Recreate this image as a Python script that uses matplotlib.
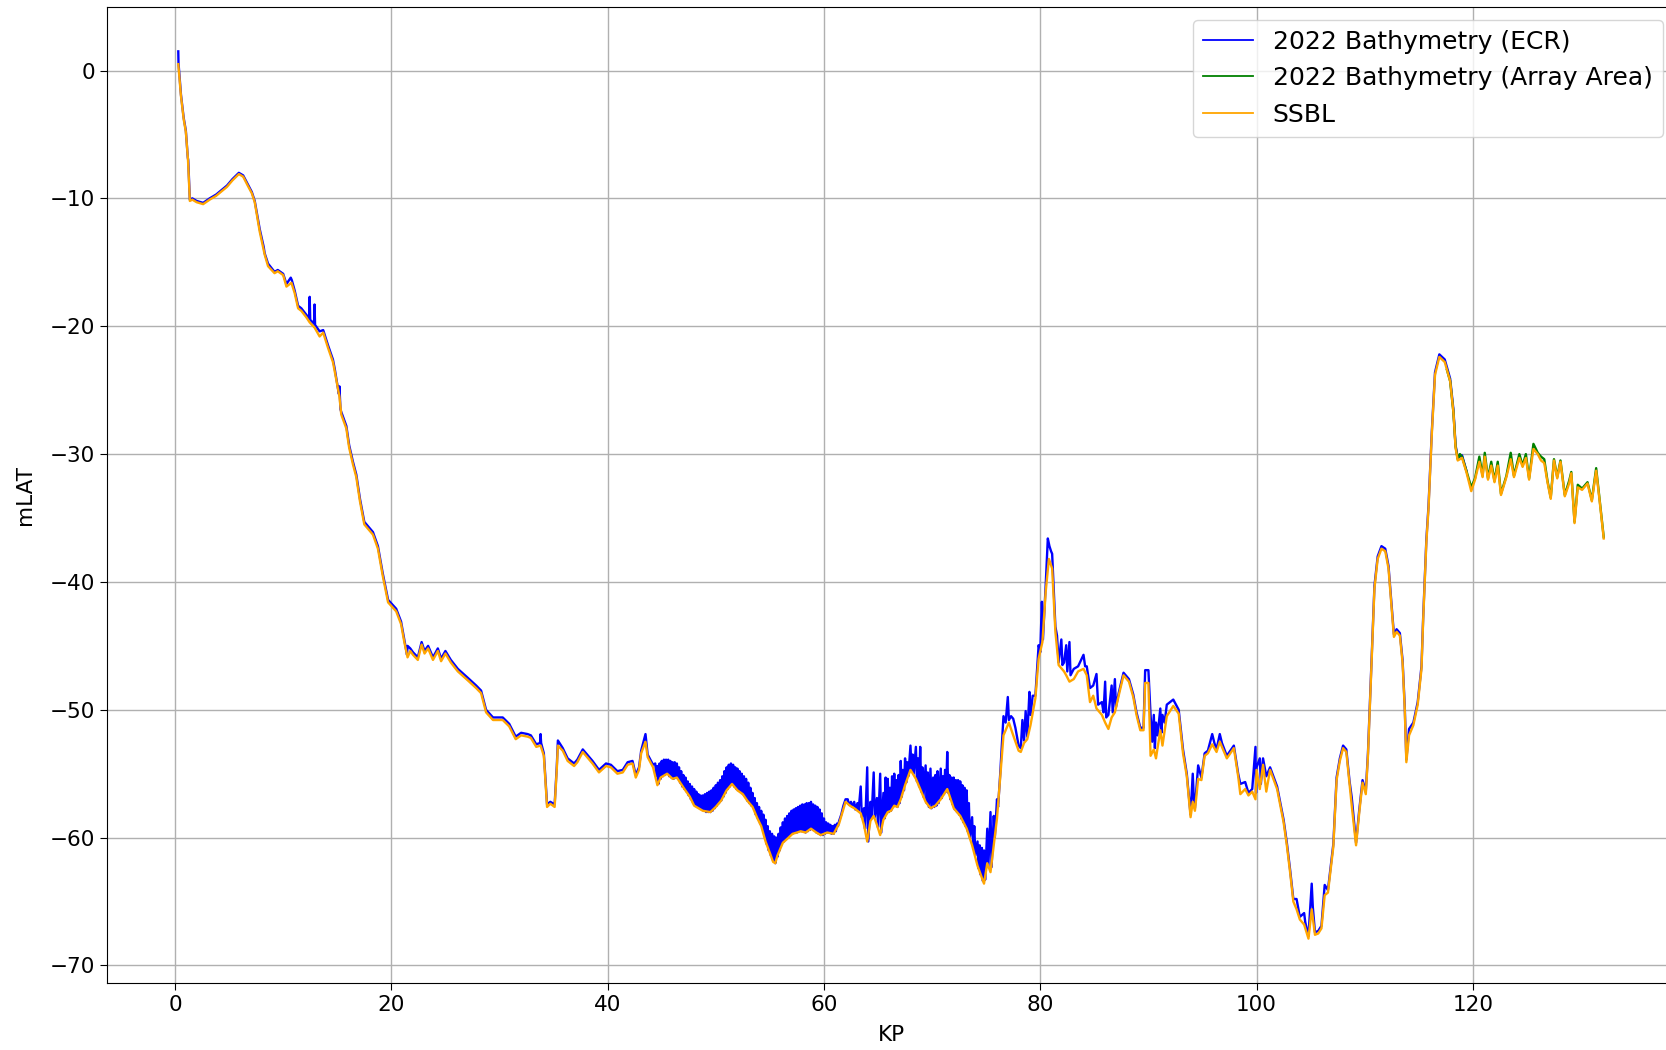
import numpy as np
import matplotlib
matplotlib.use("Agg")
import matplotlib.pyplot as plt

# SSBL profile (KP, mLAT)
ssbl = [
    (0.30, 0.5), (0.55, -2.0), (0.80, -3.8), (1.00, -4.8), (1.20, -7.0), (1.37, -10.2),
    (1.6, -10.1), (2.0, -10.3), (2.6, -10.45), (3.2, -10.1), (3.8, -9.8), (4.3, -9.45),
    (4.8, -9.1), (5.3, -8.6), (5.9, -8.1), (6.3, -8.3), (6.76, -9.06), (7.1, -9.6),
    (7.37, -10.3), (7.83, -12.6), (8.29, -14.4), (8.6, -15.3), (9.2, -15.85), (9.5, -15.7),
    (10.0, -16.0), (10.3, -16.9), (10.76, -16.6), (11.06, -17.4), (11.38, -18.6), (11.68, -18.8),
    (12.14, -19.3), (12.45, -19.7), (12.9, -20.1), (13.37, -20.8), (13.7, -20.5), (14.15, -21.7),
    (14.6, -22.8), (14.76, -23.5), (15.2, -25.5), (15.37, -26.9), (15.84, -28.0), (16.1, -29.5),
    (16.45, -30.8), (16.76, -31.8), (17.1, -33.7), (17.5, -35.5), (18.3, -36.3), (18.76, -37.4),
    (19.2, -39.5), (19.7, -41.6), (20.45, -42.3), (20.9, -43.3), (21.2, -44.7), (21.5, -45.9),
    (21.75, -45.4), (22.0, -45.7), (22.45, -46.1), (22.8, -44.9), (23.07, -45.6), (23.4, -45.2),
    (23.85, -46.1), (24.3, -45.4), (24.6, -46.2), (25.0, -45.6), (25.5, -46.3), (26.15, -47.0),
    (27.07, -47.7), (27.84, -48.3), (28.3, -48.7), (28.76, -50.2), (29.4, -50.8), (30.3, -50.8),
    (30.9, -51.3), (31.5, -52.3), (32.0, -52.0), (32.6, -52.1), (32.9, -52.2), (33.4, -52.9),
    (33.8, -52.8), (34.1, -53.6), (34.4, -57.6), (34.7, -57.35), (35.1, -57.6), (35.3, -54.6),
    (35.4, -52.8), (35.85, -53.2), (36.3, -54.0), (36.9, -54.4), (37.2, -54.1), (37.7, -53.3),
    (38.2, -53.8), (38.6, -54.2), (39.2, -54.9), (39.85, -54.4), (40.3, -54.5), (40.9, -55.0),
    (41.4, -54.9), (41.85, -54.3), (42.3, -54.2), (42.6, -55.3), (42.9, -54.7), (43.1, -53.4),
    (43.5, -52.5), (43.7, -53.7), (44.2, -54.5), (44.6, -55.9), (44.9, -55.3), (45.5, -55.0),
    (46.0, -55.4), (46.4, -55.3), (47.1, -56.2), (47.6, -56.8), (48.0, -57.5), (48.8, -57.9),
    (49.5, -58.0), (50.0, -57.6), (50.5, -57.1), (51.0, -56.3), (51.5, -55.8), (52.0, -56.3),
    (52.5, -56.6), (52.9, -57.1), (53.4, -57.6), (53.85, -58.5), (54.2, -59.1), (54.6, -60.3),
    (55.0, -61.2), (55.3, -61.9), (55.5, -62.0), (55.7, -61.4), (56.2, -60.4), (56.6, -60.1),
    (57.1, -59.7), (57.5, -59.6), (57.85, -59.5), (58.3, -59.6), (58.8, -59.3), (59.3, -59.6),
    (59.7, -59.8), (60.3, -59.6), (60.9, -59.7), (61.4, -58.9), (62.0, -57.2), (62.4, -57.5),
    (62.8, -57.7), (63.4, -58.1), (63.7, -59.0), (64.0, -60.3), (64.3, -58.7), (64.6, -58.3),
    (64.9, -59.0), (65.2, -59.8), (65.5, -58.6), (65.9, -58.0), (66.2, -57.9), (66.5, -57.5),
    (66.8, -57.6), (67.1, -57.0), (67.5, -55.9), (68.0, -54.7), (68.5, -55.4), (68.9, -56.2),
    (69.4, -57.2), (69.85, -57.7), (70.3, -57.5), (70.8, -57.0), (71.1, -56.6), (71.4, -56.2),
    (72.0, -57.7), (72.6, -58.3), (73.2, -59.3), (73.7, -60.6), (74.2, -62.2), (74.5, -62.9),
    (74.8, -63.6), (75.1, -62.0), (75.4, -62.7), (75.7, -60.6), (76.0, -58.5), (76.3, -55.2),
    (76.6, -52.0), (77.1, -51.0), (77.5, -52.0), (78.0, -53.2), (78.2, -53.3), (78.5, -52.6),
    (78.8, -52.3), (79.1, -51.2), (79.55, -49.1), (79.85, -46.0), (80.2, -44.7), (80.5, -40.8),
    (80.8, -38.2), (81.1, -38.95), (81.4, -43.9), (81.7, -46.5), (82.2, -47.0), (82.4, -47.3),
    (82.7, -47.8), (83.1, -47.6), (83.5, -47.0), (84.0, -46.8), (84.3, -47.3), (84.6, -49.4),
    (84.9, -48.9), (85.2, -49.9), (85.7, -50.4), (86.0, -51.0), (86.3, -51.5), (86.6, -50.6),
    (86.9, -50.2), (87.25, -48.9), (87.7, -47.3), (88.2, -47.8), (88.6, -49.0), (88.9, -50.4),
    (89.25, -51.6), (89.55, -51.6), (89.7, -47.9), (90.0, -47.9), (90.2, -53.6), (90.5, -53.1),
    (90.7, -53.8), (91.1, -51.6), (91.3, -52.8), (91.7, -50.5), (92.3, -49.7), (92.8, -50.3),
    (93.2, -53.4), (93.55, -55.2), (93.9, -58.4), (94.1, -57.2), (94.3, -57.9), (94.6, -55.4),
    (94.9, -55.5), (95.2, -53.6), (95.5, -53.4), (95.9, -52.7), (96.3, -53.3), (96.6, -52.5),
    (97.25, -53.8), (97.9, -53.0), (98.3, -55.2), (98.5, -56.6), (98.95, -56.2), (99.25, -56.7),
    (99.6, -56.4), (99.9, -57.0), (100.0, -54.7), (100.3, -56.2), (100.6, -54.3), (100.9, -56.4),
    (101.25, -54.7), (101.9, -56.2), (102.5, -58.8), (102.8, -60.6), (103.1, -62.7), (103.4, -65.0),
    (103.7, -65.6), (104.0, -66.4), (104.4, -66.8), (104.8, -67.9), (105.1, -65.6), (105.4, -67.6),
    (105.7, -67.5), (106.0, -67.1), (106.3, -64.5), (106.6, -64.3), (107.1, -60.7), (107.4, -55.5),
    (107.7, -54.0), (108.0, -53.0), (108.3, -53.3), (108.6, -55.8), (108.8, -57.5), (109.2, -60.6),
    (109.5, -58.0), (109.8, -55.7), (110.1, -56.6), (110.3, -53.6), (110.6, -47.0), (110.9, -40.5),
    (111.2, -38.2), (111.55, -37.4), (111.9, -37.6), (112.2, -38.95), (112.5, -42.1), (112.7, -44.3),
    (112.95, -43.9), (113.25, -44.2), (113.5, -46.3), (113.7, -49.9), (113.85, -54.1), (114.1, -52.0),
    (114.5, -51.2), (114.9, -49.6), (115.25, -46.8), (115.4, -43.1), (115.7, -36.9), (115.9, -34.25),
    (116.2, -28.5), (116.5, -23.8), (116.9, -22.4), (117.4, -22.8), (117.9, -24.3), (118.2, -26.7),
    (118.4, -29.5), (118.6, -30.5), (119.0, -30.3), (119.4, -31.4), (119.85, -32.9), (120.2, -32.0),
    (120.6, -30.6), (120.9, -31.8), (121.1, -30.2), (121.4, -32.0), (121.7, -30.9), (122.0, -32.2),
    (122.3, -30.9), (122.6, -33.2), (123.1, -31.8), (123.5, -30.4), (123.8, -31.8), (124.3, -30.3),
    (124.6, -31.0), (124.9, -30.3), (125.2, -32.0), (125.6, -29.6), (126.0, -30.0), (126.3, -30.5),
    (126.6, -30.7), (126.9, -32.2), (127.2, -33.5), (127.5, -30.5), (127.8, -31.9), (128.1, -30.6),
    (128.5, -33.3), (128.9, -32.3), (129.1, -31.5), (129.4, -35.4), (129.7, -32.6), (130.1, -32.8),
    (130.3, -32.6), (130.6, -32.3), (131.0, -33.7), (131.4, -31.3), (131.7, -33.5), (132.1, -36.6),
]

# 2022 bathymetry along the ECR (KP, mLAT)
ecr = [
    (0.30, 1.5), (0.32, 0.6), (0.55, -1.9), (0.80, -3.7), (1.00, -4.7), (1.18, -6.8), (1.22, -7.0),
    (1.37, -10.1), (1.6, -10.0), (2.0, -10.2), (2.6, -10.35), (3.2, -10.0), (3.8, -9.7), (4.3, -9.35),
    (4.8, -9.0), (5.3, -8.5), (5.9, -8.0), (6.3, -8.2), (6.76, -8.95), (7.1, -9.5), (7.37, -10.2),
    (7.83, -12.4), (8.2, -13.8), (8.29, -14.3), (8.6, -15.1), (9.2, -15.75), (9.5, -15.6), (10.0, -15.9),
    (10.3, -16.7), (10.7, -16.2), (10.8, -16.4), (11.06, -17.2), (11.38, -18.4), (11.68, -18.6),
    (12.14, -19.1), (12.4, -19.4), (12.45, -17.7), (12.5, -19.5), (12.85, -19.8), (12.9, -18.3),
    (12.95, -19.9), (13.37, -20.4), (13.7, -20.3), (14.15, -21.5), (14.6, -22.6), (14.76, -23.3),
    (15.15, -25.3), (15.2, -24.7), (15.3, -26.5), (15.37, -26.7), (15.84, -27.8), (16.1, -29.3),
    (16.45, -30.6), (16.76, -31.6), (17.1, -33.5), (17.5, -35.3), (18.3, -36.1), (18.76, -37.2),
    (19.2, -39.3), (19.7, -41.4), (20.45, -42.1), (20.9, -43.1), (21.2, -44.5), (21.45, -45.7),
    (21.5, -45.0), (21.75, -45.2), (22.0, -45.5), (22.45, -45.9), (22.8, -44.7), (23.07, -45.4),
    (23.4, -45.0), (23.85, -45.9), (24.3, -45.2), (24.6, -46.0), (25.0, -45.4), (25.5, -46.1),
    (26.15, -46.8), (27.07, -47.5), (27.84, -48.1), (28.3, -48.5), (28.76, -50.0), (29.4, -50.6),
    (30.3, -50.6), (30.9, -51.1), (31.5, -52.1), (32.0, -51.8), (32.6, -51.9), (32.9, -52.0),
    (33.4, -52.7), (33.75, -52.6), (33.8, -51.9), (33.85, -52.6), (34.1, -53.4), (34.4, -57.4),
    (34.7, -57.2), (35.1, -57.4), (35.3, -54.4), (35.4, -52.4), (35.85, -53.0), (36.3, -53.8),
    (36.9, -54.2), (37.2, -53.9), (37.7, -53.1), (38.2, -53.6), (38.6, -54.0), (39.2, -54.7),
    (39.85, -54.2), (40.3, -54.3), (40.9, -54.8), (41.4, -54.7), (41.85, -54.1), (42.3, -54.0),
    (42.6, -55.1), (42.9, -54.5), (43.1, -53.2), (43.5, -51.9), (43.7, -53.5), (44.2, -54.3),
    # dense band between KP 44 and 61
    (44.4, -54.2), (44.5, -55.2), (44.6, -54.4), (44.7, -55.8), (44.8, -54.2), (44.9, -55.4),
    (45.0, -54.0), (45.1, -55.2), (45.2, -53.9), (45.3, -55.1), (45.4, -53.9), (45.5, -55.0),
    (45.6, -53.9), (45.7, -55.2), (45.8, -54.0), (45.9, -55.3), (46.0, -54.1), (46.1, -55.4),
    (46.2, -54.1), (46.3, -55.3), (46.4, -54.2), (46.5, -55.4), (46.6, -54.5), (46.7, -55.7),
    (46.8, -54.8), (46.9, -56.0), (47.0, -55.1), (47.1, -56.2), (47.2, -55.3), (47.3, -56.4),
    (47.4, -55.6), (47.5, -56.7), (47.6, -55.8), (47.7, -57.0), (47.8, -56.0), (47.9, -57.3),
    (48.0, -56.2), (48.1, -57.5), (48.2, -56.4), (48.3, -57.6), (48.4, -56.6), (48.5, -57.7),
    (48.6, -56.7), (48.7, -57.8), (48.8, -56.7), (48.9, -57.9), (49.0, -56.6), (49.1, -58.0),
    (49.2, -56.5), (49.3, -58.0), (49.4, -56.4), (49.5, -58.0), (49.6, -56.3), (49.7, -57.9),
    (49.8, -56.1), (49.9, -57.7), (50.0, -55.9), (50.1, -57.5), (50.2, -55.7), (50.3, -57.3),
    (50.4, -55.5), (50.5, -57.1), (50.6, -55.2), (50.7, -56.8), (50.8, -54.8), (50.9, -56.5),
    (51.0, -54.5), (51.1, -56.2), (51.2, -54.3), (51.3, -56.0), (51.4, -54.2), (51.5, -55.8),
    (51.6, -54.3), (51.7, -56.0), (51.8, -54.5), (51.9, -56.2), (52.0, -54.6), (52.1, -56.3),
    (52.2, -54.8), (52.3, -56.4), (52.4, -55.0), (52.5, -56.6), (52.6, -55.2), (52.7, -56.8),
    (52.8, -55.4), (52.9, -57.1), (53.0, -55.7), (53.1, -57.3), (53.2, -56.1), (53.3, -57.5),
    (53.4, -56.5), (53.5, -57.7), (53.6, -56.9), (53.7, -58.2), (53.8, -57.3), (53.9, -58.5),
    (54.0, -57.6), (54.1, -58.9), (54.2, -57.9), (54.3, -59.3), (54.4, -58.2), (54.5, -59.9),
    (54.6, -58.6), (54.7, -60.5), (54.8, -59.1), (54.9, -61.0), (55.0, -59.5), (55.1, -61.4),
    (55.2, -59.7), (55.3, -61.8), (55.4, -59.9), (55.5, -62.0), (55.6, -60.0), (55.7, -61.5),
    (55.8, -59.7), (55.9, -61.0), (56.0, -59.2), (56.1, -60.5), (56.2, -58.8), (56.3, -60.3),
    (56.4, -58.5), (56.5, -60.1), (56.6, -58.3), (56.7, -60.0), (56.8, -58.1), (56.9, -59.8),
    (57.0, -57.9), (57.1, -59.7), (57.2, -57.8), (57.3, -59.6), (57.4, -57.7), (57.5, -59.6),
    (57.6, -57.6), (57.7, -59.5), (57.8, -57.5), (57.9, -59.5), (58.0, -57.4), (58.1, -59.5),
    (58.2, -57.4), (58.3, -59.6), (58.4, -57.3), (58.5, -59.5), (58.6, -57.3), (58.7, -59.4),
    (58.8, -57.2), (58.9, -59.3), (59.0, -57.4), (59.1, -59.4), (59.2, -57.5), (59.3, -59.6),
    (59.4, -57.6), (59.5, -59.7), (59.6, -57.8), (59.7, -59.8), (59.8, -58.1), (59.9, -59.8),
    (60.0, -58.5), (60.1, -59.7), (60.2, -58.8), (60.3, -59.6), (60.4, -58.9), (60.5, -59.6),
    (60.6, -59.0), (60.7, -59.7), (60.8, -59.1), (60.9, -59.7), (61.0, -59.0), (61.1, -59.5),
    (61.2, -58.9), (61.3, -59.1), (61.4, -58.7), (61.6, -58.2),
    # spiky stretch between KP 62 and 76
    (61.8, -57.5), (62.0, -57.0), (62.2, -57.0), (62.3, -57.4), (62.5, -57.2), (62.6, -57.6),
    (62.8, -57.2), (62.9, -57.8), (63.1, -57.3), (63.2, -57.9), (63.4, -56.0), (63.5, -58.4),
    (63.7, -57.7), (63.8, -59.3), (64.0, -54.5), (64.1, -60.3), (64.3, -57.2), (64.4, -58.5),
    (64.6, -54.9), (64.7, -58.4), (64.9, -56.9), (65.0, -59.2), (65.2, -55.0), (65.3, -59.6),
    (65.5, -56.5), (65.6, -58.5), (65.7, -55.3), (65.8, -58.1), (65.9, -55.4), (66.0, -58.0),
    (66.1, -56.1), (66.2, -57.9), (66.3, -55.2), (66.4, -57.6), (66.5, -55.0), (66.6, -57.5),
    (66.7, -55.5), (66.8, -57.6), (66.9, -55.1), (67.0, -57.3), (67.1, -54.0), (67.2, -56.8),
    (67.3, -54.7), (67.4, -56.3), (67.5, -53.8), (67.6, -55.7), (67.7, -54.1), (67.8, -55.2),
    (68.0, -52.8), (68.1, -54.8), (68.2, -53.5), (68.3, -55.0), (68.5, -52.9), (68.6, -55.6),
    (68.7, -53.8), (68.8, -56.0), (68.9, -52.9), (69.0, -56.4), (69.1, -54.5), (69.2, -56.8),
    (69.4, -54.35), (69.5, -57.3), (69.6, -54.9), (69.7, -57.6), (69.85, -54.6), (69.95, -57.7),
    (70.1, -55.3), (70.2, -57.6), (70.3, -55.1), (70.4, -57.5), (70.5, -54.8), (70.6, -57.3),
    (70.8, -54.6), (70.9, -56.9), (71.0, -55.2), (71.1, -56.6), (71.2, -54.7), (71.3, -56.4),
    (71.4, -53.3), (71.5, -56.5), (71.6, -55.1), (71.7, -57.0), (71.8, -55.3), (71.9, -57.4),
    (72.0, -55.3), (72.1, -57.8), (72.2, -55.5), (72.3, -58.0), (72.4, -55.5), (72.5, -58.2),
    (72.6, -55.6), (72.7, -58.5), (72.8, -55.9), (72.9, -58.8), (73.0, -56.1), (73.1, -59.1),
    (73.2, -56.3), (73.3, -59.5), (73.4, -57.3), (73.5, -60.0), (73.7, -58.4), (73.8, -60.8),
    (73.9, -59.1), (74.0, -61.4), (74.2, -60.3), (74.3, -62.4), (74.4, -60.6), (74.5, -62.9),
    (74.6, -60.8), (74.7, -63.4), (74.8, -61.0), (74.9, -63.3), (75.1, -59.3), (75.2, -62.3),
    (75.4, -58.0), (75.5, -62.3), (75.7, -58.3), (75.8, -60.0), (76.0, -57.0), (76.1, -57.6),
    (76.3, -55.0),
    (76.6, -50.5), (76.8, -51.0), (77.0, -49.0), (77.1, -50.8), (77.3, -50.5), (77.5, -50.7),
    (77.7, -51.4), (78.0, -52.8), (78.2, -53.0), (78.35, -50.8), (78.5, -52.4), (78.65, -50.1),
    (78.8, -52.1), (79.0, -48.6), (79.1, -50.4), (79.3, -48.9), (79.55, -48.9), (79.85, -44.95),
    (80.0, -45.5), (80.15, -41.55), (80.25, -44.5), (80.5, -40.3), (80.7, -36.6), (80.85, -37.2),
    (81.0, -37.6), (81.1, -37.8), (81.4, -43.5), (81.55, -44.2), (81.7, -46.3), (81.95, -44.5),
    (82.05, -46.5), (82.2, -46.3), (82.4, -44.95), (82.5, -47.0), (82.7, -44.7), (82.8, -47.3),
    (83.1, -46.8), (83.5, -46.6), (84.0, -45.7), (84.15, -46.6), (84.3, -46.6), (84.6, -48.3),
    (84.9, -48.1), (85.2, -47.2), (85.35, -49.6), (85.7, -49.4), (85.85, -50.2), (86.0, -47.8),
    (86.1, -50.6), (86.3, -50.4), (86.6, -48.1), (86.7, -50.2), (86.9, -47.6), (87.0, -49.8),
    (87.25, -48.7), (87.7, -47.1), (88.2, -47.6), (88.6, -48.8), (88.9, -50.2), (89.25, -51.4),
    (89.55, -51.4), (89.7, -46.9), (90.0, -46.9), (90.2, -50.4), (90.35, -52.5), (90.5, -50.4),
    (90.6, -53.0), (90.7, -51.0), (90.85, -52.0), (91.1, -49.9), (91.2, -51.8), (91.3, -50.4),
    (91.5, -51.0), (91.7, -49.6), (92.3, -49.2), (92.8, -50.0), (93.2, -53.1), (93.55, -55.0),
    (93.9, -58.2), (94.1, -55.0), (94.2, -57.0), (94.3, -57.7), (94.6, -54.35), (94.9, -55.3),
    (95.2, -53.4), (95.5, -53.2), (95.9, -51.9), (96.1, -52.6), (96.3, -53.1), (96.6, -51.9),
    (96.8, -52.6), (97.25, -53.6), (97.9, -52.8), (98.3, -55.0), (98.5, -55.8), (98.95, -55.65),
    (99.25, -56.5), (99.6, -56.2), (99.9, -52.9), (99.95, -56.5), (100.0, -54.5), (100.3, -53.8),
    (100.4, -55.8), (100.6, -53.8), (100.9, -55.2), (101.25, -54.5), (101.9, -56.0), (102.5, -58.6),
    (102.8, -60.4), (103.1, -62.5), (103.4, -64.8), (103.7, -64.8), (104.0, -66.2), (104.4, -65.9),
    (104.5, -66.6), (104.8, -67.7), (105.1, -63.6), (105.2, -65.4), (105.4, -67.4), (105.7, -67.3),
    (106.0, -66.9), (106.3, -63.7), (106.6, -64.1), (107.1, -60.5), (107.4, -55.3), (107.7, -53.8),
    (108.0, -52.8), (108.3, -53.1), (108.6, -55.6), (108.8, -56.85), (109.2, -60.4), (109.5, -57.8),
    (109.8, -55.5), (110.1, -56.4), (110.3, -53.4), (110.6, -46.8), (110.9, -40.3), (111.2, -38.0),
    (111.55, -37.2), (111.9, -37.4), (112.2, -38.75), (112.5, -41.9), (112.7, -44.1), (112.95, -43.7),
    (113.25, -44.0), (113.5, -46.1), (113.7, -49.7), (113.85, -53.9), (114.1, -51.5), (114.5, -51.0),
    (114.9, -49.4), (115.25, -46.6), (115.4, -42.9), (115.7, -36.7), (115.9, -34.05), (116.2, -28.3),
    (116.5, -23.6), (116.9, -22.2), (117.4, -22.6), (117.9, -24.1), (118.2, -26.5), (118.4, -29.3),
    (118.6, -30.3), (119.0, -30.1), (119.4, -31.3),
]

# 2022 bathymetry over the array area (KP, mLAT)
array_area = [
    (117.6, -23.4), (117.9, -24.3), (118.2, -26.7), (118.4, -29.4), (118.6, -30.4), (118.8, -30.0),
    (119.0, -30.2), (119.4, -31.3), (119.85, -32.6), (120.2, -31.9), (120.6, -30.2), (120.9, -31.7),
    (121.1, -29.9), (121.4, -31.9), (121.7, -30.6), (122.0, -32.1), (122.3, -30.6), (122.6, -33.1),
    (123.1, -31.7), (123.5, -29.9), (123.8, -31.7), (124.3, -30.0), (124.6, -30.9), (124.9, -30.0),
    (125.2, -31.9), (125.6, -29.2), (126.0, -29.9), (126.3, -30.2), (126.6, -30.4), (126.9, -32.1),
    (127.2, -33.4), (127.5, -30.4), (127.8, -31.8), (128.1, -30.5), (128.5, -33.2), (128.9, -32.1),
    (129.1, -31.4), (129.4, -35.3), (129.7, -32.4), (130.1, -32.7), (130.3, -32.5), (130.6, -32.2),
    (131.0, -33.6), (131.4, -31.1), (131.7, -33.4), (132.1, -36.5),
]

ecr_kp, ecr_z = np.array(ecr).T
arr_kp, arr_z = np.array(array_area).T
ssbl_kp, ssbl_z = np.array(ssbl).T

fig = plt.figure(figsize=(16.66, 10.5), dpi=100)
ax = fig.add_axes([107 / 1666, 1 - 983 / 1050, 1568 / 1666, 976 / 1050])

ax.plot(ecr_kp, ecr_z, color="blue", lw=1.7, label="2022 Bathymetry (ECR)")
ax.plot(arr_kp, arr_z, color="green", lw=1.7, label="2022 Bathymetry (Array Area)")
ax.plot(ssbl_kp, ssbl_z, color="orange", lw=1.7, label="SSBL")

ax.grid(True, color="#b0b0b0", lw=1.0)
ax.tick_params(labelsize=15.5, length=5)
ax.set_xlabel("KP", fontsize=15.5, labelpad=7)
ax.set_ylabel("mLAT", fontsize=15.5, labelpad=11)
leg = ax.legend(loc="upper right", fontsize=18)
for line in leg.get_lines():
    line.set_linewidth(1.3)

fig.savefig("out.png", dpi=100)
